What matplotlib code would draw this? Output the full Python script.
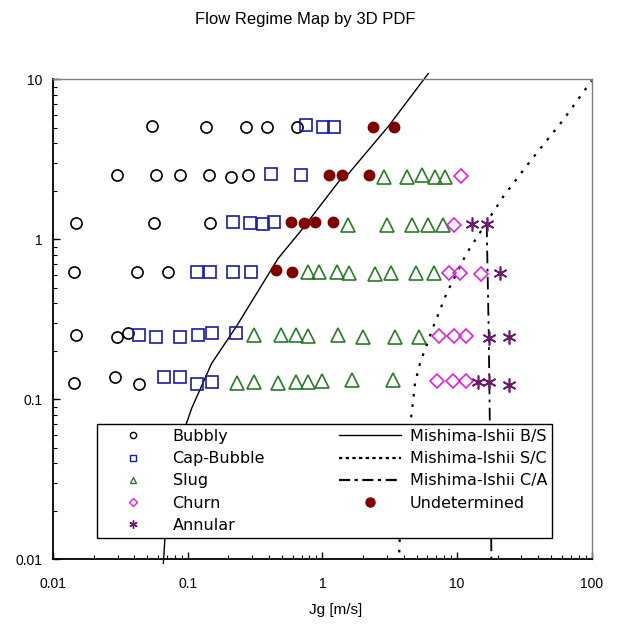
import numpy as np
import matplotlib
matplotlib.use("Agg")
from matplotlib import pyplot as plt
from matplotlib.lines import Line2D

plt.rcParams['font.family'] = ['Liberation Sans', 'DejaVu Sans']

# ---- data (Jg, Jf in m/s) ----
bubbly_jg = [0.0538, 0.136, 0.269, 0.385, 0.643,
             0.0296, 0.0577, 0.0874, 0.1435, 0.210, 0.281,
             0.0147, 0.0563, 0.1467,
             0.01425, 0.0421, 0.0711,
             0.0147, 0.0296, 0.0361,
             0.01425, 0.0287, 0.0435]
bubbly_jf = [5.15, 5.08, 5.08, 5.08, 5.08,
             2.52, 2.52, 2.52, 2.52, 2.46, 2.52,
             1.26, 1.26, 1.26,
             0.626, 0.626, 0.626,
             0.253, 0.247, 0.259,
             0.126, 0.137, 0.124]

cap_jg = [0.748, 1.003, 1.228,
          0.4165, 0.696,
          0.2152, 0.2878, 0.3633, 0.4363,
          0.1168, 0.1467, 0.2152, 0.2943,
          0.0435, 0.0577, 0.0874, 0.1195, 0.1502, 0.2288,
          0.0661, 0.0874, 0.1168, 0.1502]
cap_jf = [5.19, 5.08, 5.08,
          2.58, 2.53,
          1.287, 1.263, 1.251, 1.287,
          0.626, 0.626, 0.626, 0.626,
          0.253, 0.247, 0.247, 0.253, 0.26, 0.26,
          0.1377, 0.1377, 0.1243, 0.129]

slug_jg = [2.878, 4.22, 5.49, 6.85, 8.17,
           1.539, 3.03, 4.65, 6.08, 7.90,
           0.785, 0.942, 1.275, 1.574, 2.455, 3.245, 4.925, 6.70,
           0.3082, 0.4917, 0.632, 0.780, 1.315, 1.99, 3.456, 5.21,
           0.2316, 0.3082, 0.467, 0.632, 0.780, 0.9865, 1.648, 3.357]
slug_jf = [2.47, 2.47, 2.53, 2.47, 2.47,
           1.232, 1.232, 1.232, 1.232, 1.232,
           0.629, 0.629, 0.629, 0.621, 0.606, 0.621, 0.621, 0.621,
           0.253, 0.253, 0.253, 0.25, 0.253, 0.245, 0.247, 0.245,
           0.126, 0.129, 0.126, 0.129, 0.129, 0.131, 0.132, 0.133]

churn_jg = [10.74, 9.43, 8.66, 10.5, 15.05, 7.30, 9.48, 11.65, 7.05, 9.37, 11.58]
churn_jf = [2.49, 1.236, 0.621, 0.621, 0.606, 0.25, 0.25, 0.25, 0.131, 0.131, 0.131]

annular_jg = [12.9, 16.6, 20.9, 17.2, 24.2, 14.37, 17.26, 24.4]
annular_jf = [1.24, 1.24, 0.621, 0.241, 0.247, 0.129, 0.128, 0.123]

undet_jg = [2.36, 3.40, 1.118, 1.403, 2.227, 0.580, 0.733, 0.880, 1.203, 0.449, 0.5965]
undet_jf = [5.08, 5.08, 2.53, 2.53, 2.53, 1.287, 1.263, 1.293, 1.287, 0.642, 0.626]

# Mishima-Ishii transition lines (traced)
bs_jg = [0.0657, 0.0675, 0.072, 0.078, 0.086, 0.096, 0.1067, 0.1502, 0.2288,
         0.4695, 0.70, 1.349, 1.555, 3.08, 6.11]
bs_jf = [0.00944, 0.0135, 0.025, 0.038, 0.051, 0.068, 0.088, 0.168, 0.285,
         0.763, 1.147, 2.355, 2.568, 5.08, 10.9]

sc_jg = [3.70, 3.80, 4.0, 4.3, 4.6, 4.87, 5.30, 6.66, 8.37, 11.79, 22.0, 34.8, 61.5, 100.0]
sc_jf = [0.0095, 0.02, 0.035, 0.055, 0.082, 0.126, 0.168, 0.285, 0.461, 0.82, 1.85, 3.07, 5.59, 9.84]

ca_jg = [16.6, 17.2, 18.0]
ca_jf = [1.24, 0.25, 0.01]

fig = plt.figure(figsize=(6.36, 6.40), dpi=100)
ax = fig.add_axes([0.0838, 0.1261, 0.8465, 0.7497])

ax.plot(bs_jg, bs_jf, color='black', lw=1.0, clip_on=False)
ax.plot(sc_jg, sc_jf, color='black', lw=1.6, ls=(0, (1.2, 3.5)))
ax.plot(ca_jg, ca_jf, color='black', lw=1.3, ls=(0, (7, 3, 1.5, 3)))

ax.plot(bubbly_jg, bubbly_jf, 'o', ms=8, mfc='none', mec='black', mew=1.2)
ax.plot(cap_jg, cap_jf, 's', ms=8, mfc='none', mec='#1a1aa8', mew=1.2)
ax.plot(slug_jg, slug_jf, '^', ms=9.5, mfc='none', mec='#2a7a2a', mew=1.2)
ax.plot(churn_jg, churn_jf, 'D', ms=7.2, mfc='none', mec='#e020e0', mew=1.2)
ax.plot(annular_jg, annular_jf, marker=(6, 2, 0), ls='none', ms=10, mec='#6a1a6a', mew=1.2)
ax.plot(undet_jg, undet_jf, 'o', ms=7.5, mfc='#800000', mec='#800000')

ax.set_xscale('log')
ax.set_yscale('log')
ax.set_xlim(0.01, 100)
ax.set_ylim(0.01, 10)
ax.set_xticks([0.01, 0.1, 1, 10, 100])
ax.set_xticklabels(['0.01', '0.1', '1', '10', '100'])
ax.set_yticks([0.01, 0.1, 1, 10])
ax.set_yticklabels(['0.01', '0.1', '1', '10'])

ax.tick_params(which='both', direction='in', top=False, right=False, labelsize=10)
ax.tick_params(axis='x', which='major', length=5, width=1, pad=13)
ax.tick_params(axis='y', which='major', length=5, width=1, pad=8)
ax.tick_params(which='minor', length=3, width=0.8)
for s in ['left', 'bottom']:
    ax.spines[s].set_linewidth(1.3)
for s in ['top', 'right']:
    ax.spines[s].set_color('#808080')
    ax.spines[s].set_linewidth(1.0)

ax.set_xlabel('Jg [m/s]', fontsize=11)
ax.xaxis.set_label_coords(0.525, -0.092)
fig.text(0.48, 0.97, 'Flow Regime Map by 3D PDF', ha='center', va='center', fontsize=12)

handles = [
    Line2D([], [], ls='none', marker='o', ms=4.5, mfc='none', mec='black', mew=1),
    Line2D([], [], ls='none', marker='s', ms=4.5, mfc='none', mec='#1a1aa8', mew=1),
    Line2D([], [], ls='none', marker='^', ms=5, mfc='none', mec='#2a7a2a', mew=1),
    Line2D([], [], ls='none', marker='D', ms=4, mfc='none', mec='#e020e0', mew=1),
    Line2D([], [], ls='none', marker=(6, 2, 0), ms=6, mec='#6a1a6a', mew=1),
    Line2D([], [], color='black', lw=1.0),
    Line2D([], [], color='black', lw=1.6, ls=(0, (1.5, 1.5))),
    Line2D([], [], color='black', lw=1.6, ls=(0, (5, 2, 1.5, 2))),
    Line2D([], [], ls='none', marker='o', ms=6.5, mfc='#800000', mec='#800000'),
]
labels = ['Bubbly', 'Cap-Bubble', 'Slug', 'Churn', 'Annular',
          'Mishima-Ishii B/S', 'Mishima-Ishii S/C', 'Mishima-Ishii C/A', 'Undetermined']
leg = ax.legend(handles, labels, ncol=2, loc='upper left',
                bbox_to_anchor=(0.0806, 0.2814),
                prop={'family': 'DejaVu Sans', 'size': 11.5},
                frameon=True, fancybox=False, framealpha=1,
                edgecolor='black', handlelength=3.9, handletextpad=0.55,
                labelspacing=0.45, borderaxespad=0, borderpad=0.3,
                columnspacing=4.6)
leg.get_frame().set_linewidth(1.0)
leg.set_zorder(5)

fig.savefig('out.png', dpi=100)
